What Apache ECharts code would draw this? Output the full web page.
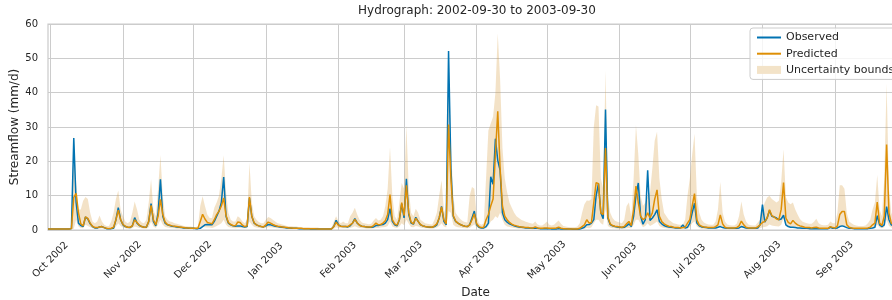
<!DOCTYPE html>
<html>
<head>
<meta charset="utf-8">
<title>Hydrograph</title>
<script src="https://cdn.jsdelivr.net/npm/echarts@6/dist/echarts.min.js"></script>
<style>
html, body { margin: 0; padding: 0; background: #fff; }
#chart { width: 892px; height: 300px; }
</style>
</head>
<body>
<div id="chart"></div>
<script>
// daily values, 2002-09-30 .. 2003-09-30 (mm/d)
const observed = [
  0.3,
  // Oct
  0.3, 0.3, 0.3, 0.3, 0.3, 0.3, 0.3, 0.3, 0.3, 0.4, 26.8, 8, 2, 1.3, 1.0, 3.8, 3.2, 1.8, 1.0, 0.6, 0.6, 0.9, 1.0, 0.7, 0.4, 0.4, 0.4, 0.5, 3, 6.5, 3,
  // Nov
  1.5, 1, 0.8, 0.7, 1.2, 3.6, 2, 1.3, 1, 0.8, 0.8, 2.5, 7.7, 2.5, 1.2, 5, 14.8, 4, 2, 1.5, 1.3, 1.1, 1, 0.9, 0.8, 0.7, 0.6, 0.6, 0.5, 0.5,
  // Dec
  0.5, 0.4, 0.4, 0.5, 1, 1.5, 1.6, 1.5, 1.5, 2.5, 4, 5.5, 8, 15.4, 4, 2, 1.5, 1.2, 1.1, 1.2, 1.2, 1, 0.9, 1, 9.3, 4, 2, 1.5, 1.2, 1, 0.9,
  // Jan
  1.2, 1.6, 1.5, 1.3, 1.1, 1, 0.9, 0.8, 0.7, 0.6, 0.6, 0.5, 0.5, 0.5, 0.4, 0.4, 0.4, 0.4, 0.4, 0.3, 0.3, 0.3, 0.3, 0.3, 0.3, 0.3, 0.3, 0.3, 0.3, 1, 2.8,
  // Feb
  1.5, 1.1, 1, 1, 0.9, 1.2, 2, 3.3, 2, 1.4, 1.1, 1, 0.9, 0.8, 0.8, 0.9, 1.3, 1.3, 1.5, 1.6, 2, 3, 6.2, 2.5, 1.5, 1.2, 3, 7.6,
  // Mar
  3.5, 14.9, 4.5, 2, 1.7, 3.7, 2.5, 1.5, 1.2, 1, 0.9, 0.8, 0.8, 1, 1.5, 3.5, 6.9, 2.5, 1.5, 52.1, 18, 4, 2.5, 2, 1.6, 1.3, 1.1, 1, 1.5, 3.5, 5.5,
  // Apr
  1.5, 0.8, 0.6, 0.6, 1, 2, 15.5, 13.3, 26.6, 20.3, 17.4, 5, 3, 2.3, 1.8, 1.5, 1.2, 1, 0.9, 0.8, 0.7, 0.6, 0.6, 0.5, 0.5, 0.6, 0.5, 0.4, 0.4, 0.4,
  // May
  0.4, 0.4, 0.3, 0.3, 0.3, 0.4, 0.3, 0.3, 0.3, 0.3, 0.3, 0.2, 0.2, 0.2, 0.3, 0.5, 0.8, 1.5, 1.6, 2, 3, 10, 13.5, 5, 3.3, 35.1, 3.5, 1.6, 1.2, 1, 0.9,
  // Jun
  0.8, 0.7, 0.8, 1.2, 1.8, 1, 4, 10, 13.7, 4, 1.7, 3, 17.4, 2.8, 3.5, 4.5, 5.9, 2.5, 1.8, 1.3, 1, 0.9, 0.8, 0.7, 0.6, 0.6, 0.6, 1.5, 0.6, 0.8,
  // Jul
  2, 5, 7.8, 2, 1.2, 0.9, 0.8, 0.7, 0.6, 0.6, 0.6, 0.6, 0.8, 1, 0.7, 0.6, 0.5, 0.5, 0.5, 0.5, 0.5, 0.6, 1, 0.8, 0.6, 0.5, 0.5, 0.5, 0.5, 0.6, 1.5,
  // Aug
  7.4, 2.3, 3.5, 5.7, 4, 3.8, 3.5, 3, 3.2, 4.3, 1.5, 1, 0.8, 0.8, 0.7, 0.6, 0.6, 0.5, 0.5, 0.5, 0.4, 0.4, 0.4, 0.4, 0.4, 0.4, 0.4, 0.4, 0.4, 0.8, 0.5,
  // Sep
  0.5, 0.6, 1, 1.2, 1, 0.7, 0.5, 0.5, 0.4, 0.4, 0.4, 0.4, 0.4, 0.4, 0.4, 0.5, 0.6, 0.8, 4.2, 1.5, 1, 1.5, 6.8, 3, 1.5, 1.2, 1, 0.9, 0.8, 0.7
];

const predicted = [
  0.3,
  // Oct
  0.3, 0.3, 0.3, 0.3, 0.3, 0.3, 0.3, 0.3, 0.3, 0.4, 9.5, 10.7, 5, 1.8, 1.2, 3.8, 3.4, 2, 1.1, 0.7, 0.7, 0.9, 1, 0.7, 0.5, 0.4, 0.5, 0.8, 3, 5.8, 3,
  // Nov
  1.6, 1.1, 0.8, 0.8, 1.2, 3, 2.2, 1.4, 1, 0.8, 0.9, 2.5, 7.2, 3, 1.5, 4, 8.9, 4.5, 2.3, 1.6, 1.4, 1.2, 1.1, 1, 0.9, 0.8, 0.7, 0.6, 0.6, 0.5,
  // Dec
  0.5, 0.5, 0.5, 2.5, 4.6, 3.2, 2.2, 2, 1.8, 3, 4.5, 5.5, 7, 9.3, 4.2, 2.2, 1.6, 1.3, 1.2, 2.3, 2.2, 1.4, 1, 1.2, 9.6, 4, 2.1, 1.5, 1.2, 1, 0.9,
  // Jan
  1.5, 2.3, 2, 1.6, 1.3, 1.1, 1, 0.9, 0.8, 0.7, 0.6, 0.6, 0.5, 0.5, 0.5, 0.5, 0.4, 0.4, 0.4, 0.4, 0.4, 0.4, 0.3, 0.3, 0.3, 0.3, 0.3, 0.3, 0.3, 1, 2.3,
  // Feb
  1.4, 1.1, 1, 1, 1, 1.5, 2, 3.1, 2.1, 1.4, 1.1, 1, 0.9, 0.9, 0.9, 1.3, 2, 1.5, 1.6, 2, 2.7, 4.5, 10.3, 3, 1.8, 1.4, 3, 8,
  // Mar
  4.2, 13, 5, 2.3, 1.8, 3.4, 2.5, 1.6, 1.2, 1, 0.9, 0.9, 0.8, 1.2, 1.8, 3.5, 6.7, 3, 1.8, 30.7, 15, 4.2, 2.6, 2, 1.6, 1.3, 1.1, 1, 1.5, 3, 4.7,
  // Apr
  1.8, 1, 0.7, 0.8, 3, 4.5, 7, 9, 22, 34.6, 18, 7, 4, 3, 2.2, 1.7, 1.4, 1.2, 1, 0.9, 0.8, 0.7, 0.7, 0.6, 0.6, 0.9, 0.6, 0.5, 0.5, 0.6,
  // May
  0.6, 0.5, 0.5, 0.5, 0.6, 0.8, 0.5, 0.4, 0.4, 0.3, 0.3, 0.3, 0.3, 0.3, 0.5, 1, 1.5, 3, 2, 2.2, 8, 13.8, 13.5, 5, 4.5, 23.9, 3.8, 1.8, 1.3, 1.1, 1,
  // Jun
  0.9, 0.8, 1, 1.8, 2.5, 1.3, 6, 12.8, 8, 4, 3, 3.5, 5, 3.5, 5, 9, 11.7, 4, 2.5, 1.8, 1.4, 1.1, 1, 0.8, 0.7, 0.7, 0.6, 0.7, 0.8, 2,
  // Jul
  3, 7, 10.6, 3, 1.5, 1.1, 0.9, 0.8, 0.7, 0.7, 0.7, 1, 1.5, 4.4, 1.8, 0.8, 0.6, 0.6, 0.6, 0.6, 0.7, 1.2, 2.6, 1.5, 0.8, 0.6, 0.6, 0.6, 0.6, 0.9, 1.5,
  // Aug
  2.2, 2.5, 3.5, 5.9, 4.2, 3.8, 3.2, 3, 6, 13.8, 3.5, 2.2, 1.8, 2.8, 2, 1.5, 1.2, 1, 0.8, 0.7, 0.7, 0.6, 0.7, 0.8, 0.6, 0.5, 0.5, 0.5, 0.5, 1, 0.7,
  // Sep
  0.6, 1.2, 4.5, 5.4, 5.4, 1.5, 0.8, 0.6, 0.5, 0.5, 0.5, 0.5, 0.5, 0.5, 0.6, 0.8, 1.5, 2, 8.1, 2, 1.3, 4, 24.9, 5, 2, 1.5, 1.2, 1, 0.9, 0.8
];

const lower = [
  0.2,
  // Oct
  0.2, 0.2, 0.2, 0.2, 0.2, 0.2, 0.2, 0.2, 0.2, 0.2, 0.4, 3, 1, 0.6, 0.5, 1.5, 1.2, 0.8, 0.5, 0.3, 0.3, 0.4, 0.5, 0.3, 0.2, 0.2, 0.2, 0.3, 1, 2, 1.2,
  // Nov
  0.7, 0.5, 0.4, 0.4, 0.5, 1, 0.8, 0.6, 0.5, 0.4, 0.4, 0.8, 2.5, 1, 0.6, 1.5, 3, 1.5, 0.9, 0.7, 0.6, 0.5, 0.5, 0.4, 0.4, 0.4, 0.3, 0.3, 0.3, 0.3,
  // Dec
  0.3, 0.3, 0.3, 0.5, 1, 0.8, 0.7, 0.7, 0.6, 0.8, 1.2, 1.5, 2, 3, 1.5, 0.9, 0.7, 0.6, 0.5, 0.6, 0.6, 0.5, 0.5, 0.5, 2.5, 1.5, 0.9, 0.7, 0.6, 0.5, 0.5,
  // Jan
  0.6, 0.8, 0.8, 0.7, 0.6, 0.5, 0.5, 0.4, 0.4, 0.3, 0.3, 0.3, 0.3, 0.3, 0.2, 0.2, 0.2, 0.2, 0.2, 0.2, 0.2, 0.2, 0.2, 0.2, 0.2, 0.2, 0.2, 0.2, 0.2, 0.4, 0.8,
  // Feb
  0.6, 0.5, 0.5, 0.5, 0.5, 0.6, 0.8, 1.1, 0.8, 0.6, 0.5, 0.5, 0.4, 0.4, 0.4, 0.5, 0.6, 0.6, 0.7, 0.8, 0.9, 1.2, 2.5, 1, 0.7, 0.6, 1, 2,
  // Mar
  1.4, 3, 1.8, 0.9, 0.8, 1.2, 1, 0.7, 0.6, 0.5, 0.5, 0.4, 0.4, 0.5, 0.7, 1.2, 2, 1, 0.7, 5.5, 5, 1.5, 1, 0.8, 0.7, 0.6, 0.5, 0.5, 0.6, 1.2, 1.6,
  // Apr
  0.7, 0.4, 0.3, 0.3, 0.5, 1.2, 2.5, 3, 4, 3.5, 5, 3, 1.5, 1, 0.9, 0.7, 0.6, 0.5, 0.4, 0.4, 0.3, 0.3, 0.3, 0.3, 0.2, 0.3, 0.2, 0.2, 0.2, 0.2,
  // May
  0.2, 0.2, 0.2, 0.2, 0.2, 0.2, 0.2, 0.2, 0.2, 0.2, 0.2, 0.1, 0.1, 0.1, 0.2, 0.3, 0.4, 0.6, 0.5, 0.8, 2, 3, 3, 2, 1.5, 6, 1.2, 0.7, 0.5, 0.5, 0.4,
  // Jun
  0.4, 0.3, 0.4, 0.5, 0.6, 0.5, 1.5, 3, 3, 1.8, 0.8, 1.2, 2, 1.2, 1.5, 2, 2.5, 1.2, 0.8, 0.6, 0.5, 0.4, 0.4, 0.3, 0.3, 0.3, 0.3, 0.3, 0.3, 0.4,
  // Jul
  0.8, 2, 2.5, 1, 0.6, 0.4, 0.4, 0.3, 0.3, 0.3, 0.3, 0.3, 0.5, 1, 0.6, 0.3, 0.3, 0.2, 0.2, 0.2, 0.2, 0.4, 0.6, 0.5, 0.3, 0.2, 0.2, 0.2, 0.2, 0.3, 0.5,
  // Aug
  0.8, 0.9, 1.1, 1.6, 1.3, 1.2, 1.1, 1, 1.5, 3.5, 1.2, 0.8, 0.6, 0.7, 0.6, 0.5, 0.4, 0.4, 0.3, 0.3, 0.3, 0.2, 0.2, 0.3, 0.2, 0.2, 0.2, 0.2, 0.2, 0.3, 0.3,
  // Sep
  0.3, 0.4, 0.8, 1.2, 1.2, 0.5, 0.3, 0.3, 0.2, 0.2, 0.2, 0.2, 0.2, 0.2, 0.2, 0.3, 0.4, 0.6, 1.5, 0.7, 0.5, 0.8, 3, 1.2, 0.7, 0.6, 0.5, 0.4, 0.4, 0.3
];

const upper = [
  0.4,
  // Oct
  0.4, 0.4, 0.4, 0.4, 0.4, 0.4, 0.4, 0.4, 0.5, 0.6, 27.6, 14, 6, 6, 8.5, 9.6, 9, 5, 2.5, 2, 2.5, 4.2, 2.5, 1.5, 1.2, 1.2, 2.5, 5, 9, 11.5, 6,
  // Nov
  4, 2.5, 2, 2.5, 5, 8.3, 6, 3, 2.2, 2, 3, 8, 14.8, 6, 4, 12, 21.8, 10, 4, 3, 2.5, 2.3, 2, 1.8, 1.6, 1.4, 1.2, 1.1, 1, 1,
  // Dec
  0.9, 0.9, 1, 7, 9.8, 7, 4.5, 3.5, 3.5, 6.5, 8, 10, 15, 21.8, 11, 5, 3, 2.5, 2.5, 4, 3.5, 2.5, 2, 3, 19.6, 8, 4, 3, 2.3, 2, 2,
  // Jan
  3, 3.8, 3.5, 3, 2.5, 2, 1.8, 1.6, 1.4, 1.2, 1.1, 1.1, 1, 1, 0.9, 0.9, 0.8, 0.8, 0.8, 0.7, 0.7, 0.7, 0.7, 0.6, 0.6, 0.6, 0.6, 0.6, 0.6, 2.5, 4,
  // Feb
  2.5, 2, 2.5, 2, 2, 4, 5, 6.5, 4.5, 3, 2.2, 2, 1.8, 1.7, 1.8, 2.8, 3.5, 2.8, 3, 4, 7, 12, 24.2, 10, 4, 3, 8, 13.7,
  // Mar
  12, 30.5, 12, 5, 4, 6.2, 5, 3, 2.5, 2, 1.8, 1.7, 1.6, 3, 5, 10, 14.5, 6, 3.5, 52.9, 25, 10, 5, 4, 3.2, 2.6, 2.3, 2.2, 10, 12.5, 12,
  // Apr
  4, 2, 1.5, 2, 15, 29, 31, 33, 40, 57.3, 44, 24, 15, 11, 8, 6.5, 5, 4, 3.5, 3, 2.7, 2.4, 2.2, 2, 1.8, 2.5, 1.6, 1.3, 1.3, 1.8,
  // May
  2.5, 1.5, 1.3, 1.5, 2.2, 2.8, 1.8, 1.2, 1, 0.9, 0.8, 0.8, 0.8, 1, 2, 5, 7.5, 8.6, 8.5, 9, 30, 36.3, 36, 15, 12, 46.4, 10, 5, 3.5, 2.7, 2.4,
  // Jun
  2.2, 2, 3, 7, 8, 4, 15, 30.5, 22, 10, 7, 8, 10, 11, 18, 26, 28.6, 15, 9, 5, 4, 3, 2.5, 2, 1.8, 1.6, 1.5, 1.6, 3, 10,
  // Jul
  15, 22, 28, 10, 5, 3, 2.2, 1.8, 1.6, 1.5, 1.5, 2.5, 6, 14, 5, 2.5, 1.6, 1.4, 1.3, 1.3, 1.8, 4, 8.3, 4.5, 2.5, 1.6, 1.4, 1.3, 1.3, 2.2, 3,
  // Aug
  6, 8, 9.5, 10, 9, 8.5, 8, 8.5, 14, 23.5, 9.6, 8, 7.5, 8, 6, 4.5, 3.2, 2.5, 2.2, 2, 1.8, 1.8, 2.4, 3.3, 2, 1.5, 1.4, 1.4, 1.5, 2.5, 2,
  // Sep
  2, 5, 13, 13, 12, 5, 2.5, 2, 1.5, 1.3, 1.2, 1.2, 1.2, 1.3, 2, 3, 6, 8, 16, 6, 4, 15, 42.7, 12, 5, 3.5, 3, 2.5, 2.2, 2
];

const monthNames = ["Jan", "Feb", "Mar", "Apr", "May", "Jun", "Jul", "Aug", "Sep", "Oct", "Nov", "Dec"];

// one category per day, starting 2002-09-30
const dates = [];
const start = Date.UTC(2002, 8, 30);
for (let i = 0; i < observed.length; i++) {
  dates.push(new Date(start + i * 86400000).toISOString().slice(0, 10));
}

const textColor = "#262626";
const gridColor = "#cccccc";
const bandFill = "rgba(214,160,70,0.3)";
const bandSolid = "#f3e3c8";

// band drawn as lower + (upper - lower) stacked
const bandHeight = upper.map((u, i) => +(u - lower[i]).toFixed(2));
const isMonthStart = (idx, value) => value.slice(8) === "01";

const myChart = echarts.init(document.getElementById("chart"));
const option = {
  animation: false,
  textStyle: { fontFamily: "DejaVu Sans", color: textColor },
  title: {
    text: "Hydrograph: 2002-09-30 to 2003-09-30",
    left: 353,
    top: 0,
    textStyle: { fontSize: 12, fontWeight: "normal", color: textColor, fontFamily: "DejaVu Sans" },
  },
  legend: {
    orient: "vertical",
    left: 750,
    top: 28,
    padding: [4, 6, 4, 6],
    itemWidth: 24,
    itemHeight: 8,
    itemGap: 5.2,
    backgroundColor: "rgba(255,255,255,0.8)",
    borderColor: gridColor,
    borderWidth: 1,
    borderRadius: 3,
    textStyle: { fontSize: 11, color: textColor, fontFamily: "DejaVu Sans" },
    data: [
      // hide the marker dot, keep only the line
      { name: "Observed", itemStyle: { opacity: 0 } },
      { name: "Predicted", itemStyle: { opacity: 0 } },
      { name: "Uncertainty bounds", icon: "rect", itemStyle: { color: bandSolid } },
    ],
  },
  grid: {
    left: 48,
    right: -11,
    top: 24,
    bottom: 70,
    show: true,
    borderColor: gridColor,
    borderWidth: 1.25,
    containLabel: false,
    outerBoundsMode: "none",
  },
  xAxis: {
    type: "category",
    data: dates,
    boundaryGap: false,
    name: "Date",
    nameLocation: "middle",
    nameGap: 57,
    nameMoveOverlap: false,
    nameTextStyle: { fontSize: 12, color: textColor },
    axisLine: { show: false },
    axisTick: { show: false },
    axisLabel: {
      interval: isMonthStart,
      rotate: 45,
      align: "center",
      verticalAlign: "middle",
      margin: 30,
      fontSize: 10,
      color: textColor,
      formatter: (v) => monthNames[+v.slice(5, 7) - 1] + " " + v.slice(0, 4),
    },
    splitLine: {
      show: true,
      interval: isMonthStart,
      lineStyle: { color: gridColor, width: 1, type: "solid" },
    },
  },
  yAxis: {
    type: "value",
    min: 0,
    max: 60,
    interval: 10,
    name: "Streamflow (mm/d)",
    nameLocation: "middle",
    nameGap: 27,
    nameMoveOverlap: false,
    nameTextStyle: { fontSize: 12, color: textColor },
    axisLine: { show: false },
    axisTick: { show: false },
    axisLabel: { fontSize: 10, margin: 10, color: textColor },
    splitLine: { show: true, lineStyle: { color: gridColor, width: 1, type: "solid" } },
  },
  series: [
    {
      name: "lower",
      type: "line",
      data: lower,
      stack: "band",
      symbol: "none",
      silent: true,
      lineStyle: { width: 0, opacity: 0 },
      z: 1,
    },
    {
      name: "Uncertainty bounds",
      type: "line",
      data: bandHeight,
      stack: "band",
      symbol: "none",
      silent: true,
      lineStyle: { width: 0, opacity: 0 },
      itemStyle: { color: bandSolid },
      areaStyle: { color: bandFill, opacity: 1 },
      z: 1,
    },
    {
      name: "Observed",
      type: "line",
      data: observed,
      symbol: "none",
      lineStyle: { color: "#0173B2", width: 1.5 },
      itemStyle: { color: "#0173B2" },
      z: 2,
    },
    {
      name: "Predicted",
      type: "line",
      data: predicted,
      symbol: "none",
      lineStyle: { color: "#DE8F05", width: 1.5 },
      itemStyle: { color: "#DE8F05" },
      z: 3,
    },
  ],
};
myChart.setOption(option);
</script>
</body>
</html>
